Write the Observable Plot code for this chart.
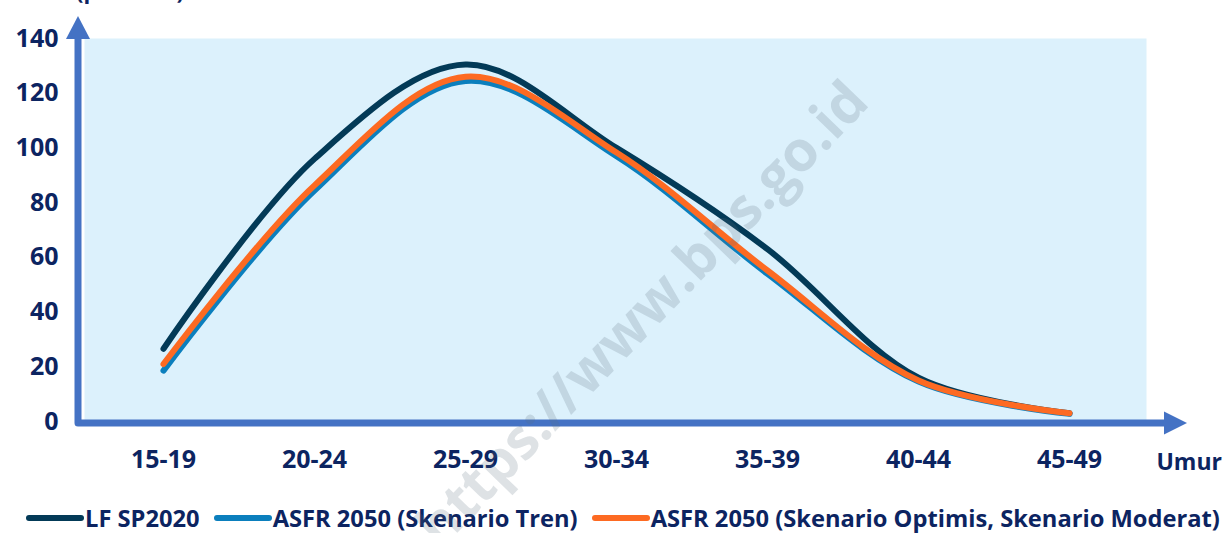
<!DOCTYPE html>
<html>
<head>
<meta charset="utf-8">
<script src="https://cdn.jsdelivr.net/npm/d3@7"></script>
<script src="https://cdn.jsdelivr.net/npm/@observablehq/plot@0.6"></script>
<style>
  html, body { margin: 0; padding: 0; background: #ffffff; }
  #wrap { position: relative; width: 1228px; height: 533px; overflow: hidden; font-family: "Open Sans", sans-serif; }
  #toplabel { position: absolute; left: 76px; top: -25px; font-size: 22px; font-weight: 700; color: #0c2461; white-space: nowrap; line-height: 30px; }
  #chart { position: absolute; left: 0; top: 0; }
  #legend { position: absolute; left: 24px; top: 504px; height: 28px; display: flex; align-items: center; font-size: 23.7px; line-height: 28px; font-weight: 700; color: #0c2461; white-space: nowrap; }
  #legend .item { display: flex; align-items: center; margin-right: 12px; }
  #legend svg { margin-right: 1px; }
  #watermark { position: absolute; left: 640px; top: 312px; transform: translate(-50%, -50%) rotate(-46deg); font-size: 56px; font-weight: 700; color: rgba(90, 110, 125, 0.2); white-space: nowrap; pointer-events: none; font-family: "Open Sans", sans-serif; }
</style>
</head>
<body>
<div id="wrap">
  <div id="toplabel">(per 1000)</div>
  <div id="chart"></div>
  <div id="legend"></div>
  <div id="watermark">https://www.bps.go.id</div>
</div>
<script>
const ages = ["15-19", "20-24", "25-29", "30-34", "35-39", "40-44", "45-49"];
const seriesNames = ["LF SP2020", "ASFR 2050 (Skenario Tren)", "ASFR 2050 (Skenario Optimis, Skenario Moderat)"];
const lfSP2020 = [26.6, 96, 130.5, 100, 63, 16, 3];
const asfrTren = [18.6, 84.4, 124.5, 97, 54, 14.6, 2.8];
const asfrOptimisModerat = [21, 86.3, 126, 98.3, 55.2, 15, 3];
const seriesColors = ["#033a57", "#0b7fbd", "#fd6a22"];
const yTicks = [0, 20, 40, 60, 80, 100, 120, 140];

const seriesValues = [lfSP2020, asfrTren, asfrOptimisModerat];
const data = seriesNames.flatMap((s, k) => ages.map((a, i) => ({ series: s, age: a, value: seriesValues[k][i] })));

const W = 1228, H = 495, mL = 86, mR = 82, mT = 38, mB = 74;
const textColor = "#0c2461";

const plot = Plot.plot({
  width: W,
  height: H,
  marginLeft: mL,
  marginRight: mR,
  marginTop: mT,
  marginBottom: mB,
  style: { fontFamily: "Open Sans, sans-serif", fontWeight: 700, fontSize: "25px", color: textColor, background: "transparent", overflow: "visible" },
  x: { type: "point", domain: ages, padding: 0.5, label: null },
  y: { domain: [0, 140], label: null },
  color: { domain: seriesNames, range: seriesColors },
  marks: [
    Plot.frame({ fill: "#dcf1fc", stroke: null, insetLeft: -2 }),
    Plot.axisX({ tickSize: 0, tickPadding: 29, label: null, fill: textColor }),
    Plot.axisY({ ticks: yTicks, tickSize: 0, tickPadding: 28, label: null, fill: textColor }),
    Plot.line(data, { x: "age", y: "value", z: "series", stroke: "series", strokeWidth: 6, curve: "catmull-rom", strokeLinecap: "round", strokeLinejoin: "round" })
  ]
});
document.getElementById("chart").appendChild(plot);

// axis arrows (decoration)
const sy = plot.scale("y");
const svg = d3.select(plot);
const axisBlue = "#4472c4";
const yTop = sy.apply(140), yBot = sy.apply(0);
const axX = mL - 8, axY = yBot + 2;
const rightEnd = W - mR + 18;
svg.append("path")
  .attr("d", `M${axX},${yTop + 1}V${axY}H${rightEnd}`)
  .attr("fill", "none").attr("stroke", axisBlue).attr("stroke-width", 7).attr("stroke-linejoin", "round");
svg.append("path")
  .attr("d", `M${axX - 12},${yTop + 1}L${axX + 12},${yTop + 1}L${axX},${yTop - 22}Z`)
  .attr("fill", axisBlue);
svg.append("path")
  .attr("d", `M${rightEnd},${axY - 11.5}L${rightEnd},${axY + 11.5}L${rightEnd + 23},${axY}Z`)
  .attr("fill", axisBlue);
svg.append("text")
  .attr("x", 1222).attr("y", sy.apply(0) + 49)
  .attr("text-anchor", "end")
  .attr("fill", textColor).attr("font-size", 23).attr("font-weight", 700)
  .text("Umur");

// legend
const legend = document.getElementById("legend");
seriesNames.forEach((s, k) => {
  const item = document.createElement("div");
  item.className = "item";
  item.innerHTML = `<svg width="60" height="10"><line x1="5" y1="5" x2="57" y2="5" stroke="${seriesColors[k]}" stroke-width="6" stroke-linecap="round"/></svg><span>${s}</span>`;
  legend.appendChild(item);
});
</script>
</body>
</html>
